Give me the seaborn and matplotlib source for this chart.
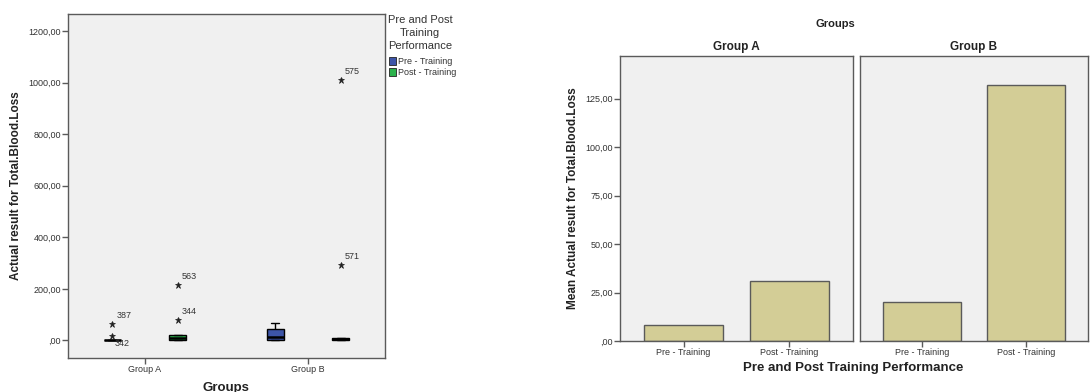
import matplotlib
matplotlib.use("Agg")
import matplotlib.pyplot as plt
from matplotlib.patches import Patch
import seaborn as sns
import pandas as pd

# ---- data -------------------------------------------------------------
groups = ["Group A", "Group B"]
phases = ["Pre - Training", "Post - Training"]

# Total blood loss per case, by group and training phase
loss_a_pre = [0, 0, 0, 0, 0, 0, 0, 0, 0, 0, 0, 18, 63]
loss_a_post = [0, 0, 0, 0, 3, 6, 8, 12, 16, 20, 20, 78, 215]
loss_b_pre = [0, 0, 0, 0, 3, 8, 12, 20, 30, 45, 52, 60, 68]
loss_b_post = [0, 0, 0, 0, 1, 3, 4, 6, 8, 10, 10, 293, 1010]

# extreme cases flagged with their case number
outlier_group = ["Group A", "Group A", "Group A", "Group A", "Group B", "Group B"]
outlier_phase = ["Pre - Training", "Pre - Training", "Post - Training",
                 "Post - Training", "Post - Training", "Post - Training"]
outlier_value = [63, 18, 215, 78, 293, 1010]
outlier_case = ["387", "342", "563", "344", "571", "575"]

# mean blood loss per group and phase
mean_a = [8.4, 31.1]
mean_b = [20.3, 132.2]

box_ticks = [0, 200, 400, 600, 800, 1000, 1200]
box_tick_labels = [",00", "200,00", "400,00", "600,00", "800,00", "1000,00", "1200,00"]
bar_ticks = [0, 25, 50, 75, 100, 125]
bar_tick_labels = [",00", "25,00", "50,00", "75,00", "100,00", "125,00"]

# ---- style ------------------------------------------------------------
sns.set_theme(style="white")
plt.rcParams["font.family"] = ["Liberation Sans", "DejaVu Sans"]

PANEL_BG = "#F0F0F0"
FRAME = "#5A5A5A"
TEXT = "#333333"
PRE_COLOR = "#3D55A8"
POST_COLOR = "#2BB24C"
BAR_COLOR = "#D3CD96"

W, H = 1090, 392
fig = plt.figure(figsize=(W / 100, H / 100), dpi=100)


def px_axes(x0, y0, x1, y1):
    return fig.add_axes([x0 / W, 1 - y1 / H, (x1 - x0) / W, (y1 - y0) / H])


def style_frame(ax):
    ax.set_facecolor(PANEL_BG)
    for s in ax.spines.values():
        s.set_visible(True)
        s.set_color(FRAME)
        s.set_linewidth(1.0)


# ---- left: box plot ---------------------------------------------------
rows = []
for g, p, vals in [("Group A", phases[0], loss_a_pre), ("Group A", phases[1], loss_a_post),
                   ("Group B", phases[0], loss_b_pre), ("Group B", phases[1], loss_b_post)]:
    for v in vals:
        rows.append({"Groups": g, "Phase": p, "Loss": v})
box_df = pd.DataFrame(rows)

ax1 = px_axes(68, 14, 385, 358)
style_frame(ax1)
sns.boxplot(data=box_df, x="Groups", y="Loss", hue="Phase", order=groups,
            hue_order=phases, palette=[PRE_COLOR, POST_COLOR], saturation=1,
            width=0.8, gap=0.75, linecolor="black", linewidth=1.0, whis=1.5,
            legend=False,
            medianprops=dict(color="black", linewidth=1.8),
            flierprops=dict(marker="*", markersize=5, markerfacecolor="#222222",
                            markeredgecolor="#222222", markeredgewidth=0.5),
            ax=ax1)
ax1.set_xlim(-0.472, 1.472)
ax1.set_ylim(-68, 1266)
ax1.set_yticks(box_ticks)
ax1.set_yticklabels(box_tick_labels)
ax1.set_xlabel("")
ax1.set_ylabel("Actual result for Total.Blood.Loss", fontsize=8.5, fontweight="bold",
               color="#222222", labelpad=5)
ax1.tick_params(axis="both", which="major", length=4, width=1, color=FRAME,
                labelsize=6.5, labelcolor=TEXT, pad=1, left=True, bottom=True)

# case-number labels beside the extreme values
dodge = {"Pre - Training": -0.2, "Post - Training": 0.2}
for g, p, v, c in zip(outlier_group, outlier_phase, outlier_value, outlier_case):
    xc = groups.index(g) + dodge[p]
    off = (2, -9) if c == "342" else (3, 3)
    ax1.annotate(c, (xc, v), xytext=off, textcoords="offset points",
                 fontsize=6.5, color=TEXT, ha="left", va="bottom")

fig.text(226 / W, 1 - 382 / H, "Groups", fontsize=9.5, fontweight="bold",
         color="#222222", ha="center", va="top")

# legend: centred title above two square swatches
fig.text(420 / W, 1 - 15 / H, "Pre and Post\nTraining\nPerformance", fontsize=8,
         color=TEXT, ha="center", va="top", multialignment="center", linespacing=1.35)
handles = [Patch(facecolor=PRE_COLOR, edgecolor="#222222", linewidth=0.6),
           Patch(facecolor=POST_COLOR, edgecolor="#222222", linewidth=0.6)]
leg = fig.legend(handles, phases, loc="upper left", bbox_to_anchor=(383 / W, 1 - 51 / H),
                 frameon=False, fontsize=6.5, handlelength=0.75, handleheight=1.0,
                 handletextpad=0.2, labelspacing=0.2, borderpad=0.2)
for t in leg.get_texts():
    t.set_color(TEXT)

# ---- right: mean bars faceted by group --------------------------------
fig.text(835 / W, 1 - 24 / H, "Groups", fontsize=8, fontweight="bold",
         color="#222222", ha="center", va="center")

panels = [(620, 853, "Group A", mean_a), (860, 1088, "Group B", mean_b)]
for i, (x0, x1, name, means) in enumerate(panels):
    ax = px_axes(x0, 56, x1, 341)
    style_frame(ax)
    sns.barplot(x=phases, y=means, order=phases, color=BAR_COLOR, saturation=1,
                edgecolor=FRAME, linewidth=1.0, width=0.75, errorbar=None, ax=ax)
    ax.set_xlim(-0.6, 1.6)
    ax.set_ylim(0, 147)
    ax.set_title(name, fontsize=8.5, fontweight="bold", color="#222222", pad=4)
    ax.set_xlabel("")
    ax.set_ylabel("")
    ax.tick_params(axis="x", length=4, width=1, color=FRAME, labelsize=6.5,
                   labelcolor=TEXT, pad=1, bottom=True)
    if i == 0:
        ax.set_yticks(bar_ticks)
        ax.set_yticklabels(bar_tick_labels)
        ax.tick_params(axis="y", length=4, width=1, color=FRAME, labelsize=6.5,
                       labelcolor=TEXT, pad=1, left=True)
        ax.set_ylabel("Mean Actual result for Total.Blood.Loss", fontsize=8.5,
                      fontweight="bold", color="#222222", labelpad=5)
    else:
        ax.set_yticks([])

fig.text(853 / W, 1 - 368 / H, "Pre and Post Training Performance", fontsize=9.5,
         fontweight="bold", color="#222222", ha="center", va="center")

fig.savefig("out.png", dpi=100, facecolor="white")
